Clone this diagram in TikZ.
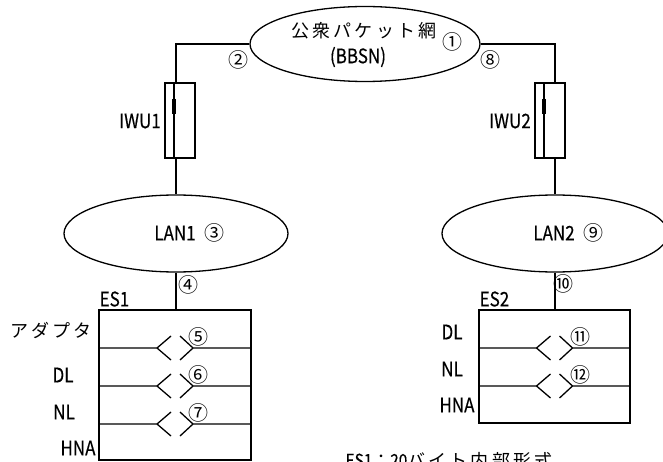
\documentclass[tikz,border=0pt]{standalone}
\usepackage{fontspec}
\setmainfont{Noto Sans CJK JP}
\newfontfamily\jpfont[LetterSpace=18]{Noto Sans CJK JP}
\newfontfamily\latfont[FakeStretch=0.85,FakeBold=0.4]{Noto Sans CJK JP}
\newfontfamily\circfont{Noto Sans CJK JP}
\usetikzlibrary{shapes.geometric}
\newcommand\layerline[4]{%
  \draw (#1,#4) -- (#3-18,#4) -- (#3-4,#4-12);
  \draw (#3-18,#4) -- (#3-4,#4+12);
  \draw (#2,#4) -- (#3+18,#4) -- (#3+5,#4-12);
  \draw (#3+18,#4) -- (#3+5,#4+12);}
\tikzset{
  net/.style={ellipse, draw, inner sep=0pt},
  boxnode/.style={rectangle, draw, inner sep=0pt},
  lbl/.style={font=\latfont\fontsize{20}{20}\selectfont, inner sep=0pt},
  num/.style={font=\circfont\fontsize{20}{20}\selectfont, inner sep=0pt},
  jtxt/.style={font=\jpfont\fontsize{18}{18}\selectfont, inner sep=0pt},
}
\begin{document}
\begin{tikzpicture}[x=1pt,y=-1pt,line width=1.3pt]
\useasboundingbox (0,0) rectangle (663,462);
\clip (0,0) rectangle (663,462);
% public packet network
\node[net, minimum width=230, minimum height=75] (bbsn) at (365,44) {};
\node[jtxt] (tbbsn) at (364,31) {公衆パケット網};
\node[lbl] (tbbsn2) at (358,57) {(BBSN)};
\node[num] (n1) at (452,42) {①};
\node[num] (n2) at (238,60) {②};
\node[num] (n8) at (490,60) {⑧};
% IWU boxes
\node[boxnode, minimum width=30, minimum height=75] (iwu1) at (180,120.5) {};
\node[boxnode, minimum width=30, minimum height=75] (iwu2) at (550,120.5) {};
\draw ([xshift=-6pt]iwu1.north) -- ([xshift=-6pt]iwu1.south);
\draw[line width=3.5pt] ([shift={(-6,-21.5)}]iwu1.center) -- ([shift={(-6,-6.5)}]iwu1.center);
\draw ([xshift=-6pt]iwu2.north) -- ([xshift=-6pt]iwu2.south);
\draw[line width=3.5pt] ([shift={(-6,-21.5)}]iwu2.center) -- ([shift={(-6,-6.5)}]iwu2.center);
\node[lbl] (tiwu1) at (140,121) {IWU1};
\node[lbl] (tiwu2) at (510,121) {IWU2};
% LANs
\node[net, minimum width=224, minimum height=77] (lan1) at (176,233.5) {};
\node[net, minimum width=226, minimum height=77] (lan2) at (555,233.5) {};
\node[lbl] (tlan1) at (175,233) {LAN1};
\node[num] (n3) at (214,233) {③};
\node[lbl] (tlan2) at (554,233) {LAN2};
\node[num] (n9) at (593,233) {⑨};
% end systems
\node[boxnode, minimum width=152, minimum height=150] (es1) at (175,385) {};
\node[boxnode, minimum width=151, minimum height=113] (es2) at (554.5,366.5) {};
% connectors
\draw (bbsn.west) -| ([xshift=-4pt]iwu1.north);
\draw (bbsn.east) -| ([xshift=5pt]iwu2.north);
\draw ([xshift=-4pt]iwu1.south) -- (lan1.north);
\draw ([xshift=5pt]iwu2.south) -- (lan2.north);
\draw (lan1.south) -- (lan1.south |- es1.north);
\draw (lan2.south) -- (lan2.south |- es2.north);
\node[num] (n4) at (188,285) {④};
\node[num] (n10) at (563,284) {⑩};
% ES1 layers
\layerline{99}{251}{175}{348}
\layerline{99}{251}{175}{386}
\layerline{99}{251}{175}{424}
\node[num] (n5) at (198,337) {⑤};
\node[num] (n6) at (198,375) {⑥};
\node[num] (n7) at (198,413) {⑦};
\node[lbl, anchor=west] (tes1) at (99,299) {ES1};
\node[jtxt] (tadp) at (51,330) {アダプタ};
\node[lbl] (tdl1) at (63,375) {DL};
\node[lbl] (tnl1) at (64,412) {NL};
\node[lbl] (thna1) at (78,448) {HNA};
% ES2 layers
\layerline{479}{630}{554.5}{348}
\layerline{479}{630}{554.5}{386}
\node[num] (n11) at (580,337) {⑪};
\node[num] (n12) at (580,375) {⑫};
\node[lbl, anchor=west] (tes2) at (479,299) {ES2};
\node[lbl] (tdl2) at (452,332) {DL};
\node[lbl] (tnl2) at (452,369) {NL};
\node[lbl] (thna2) at (457,405) {HNA};
% note (cut by the lower edge, as in the reference)
\node[jtxt, anchor=base west] (note) at (345,467) {{\latfont ES1}：{\latfont 20}バイト内部形式};
\end{tikzpicture}
\end{document}
